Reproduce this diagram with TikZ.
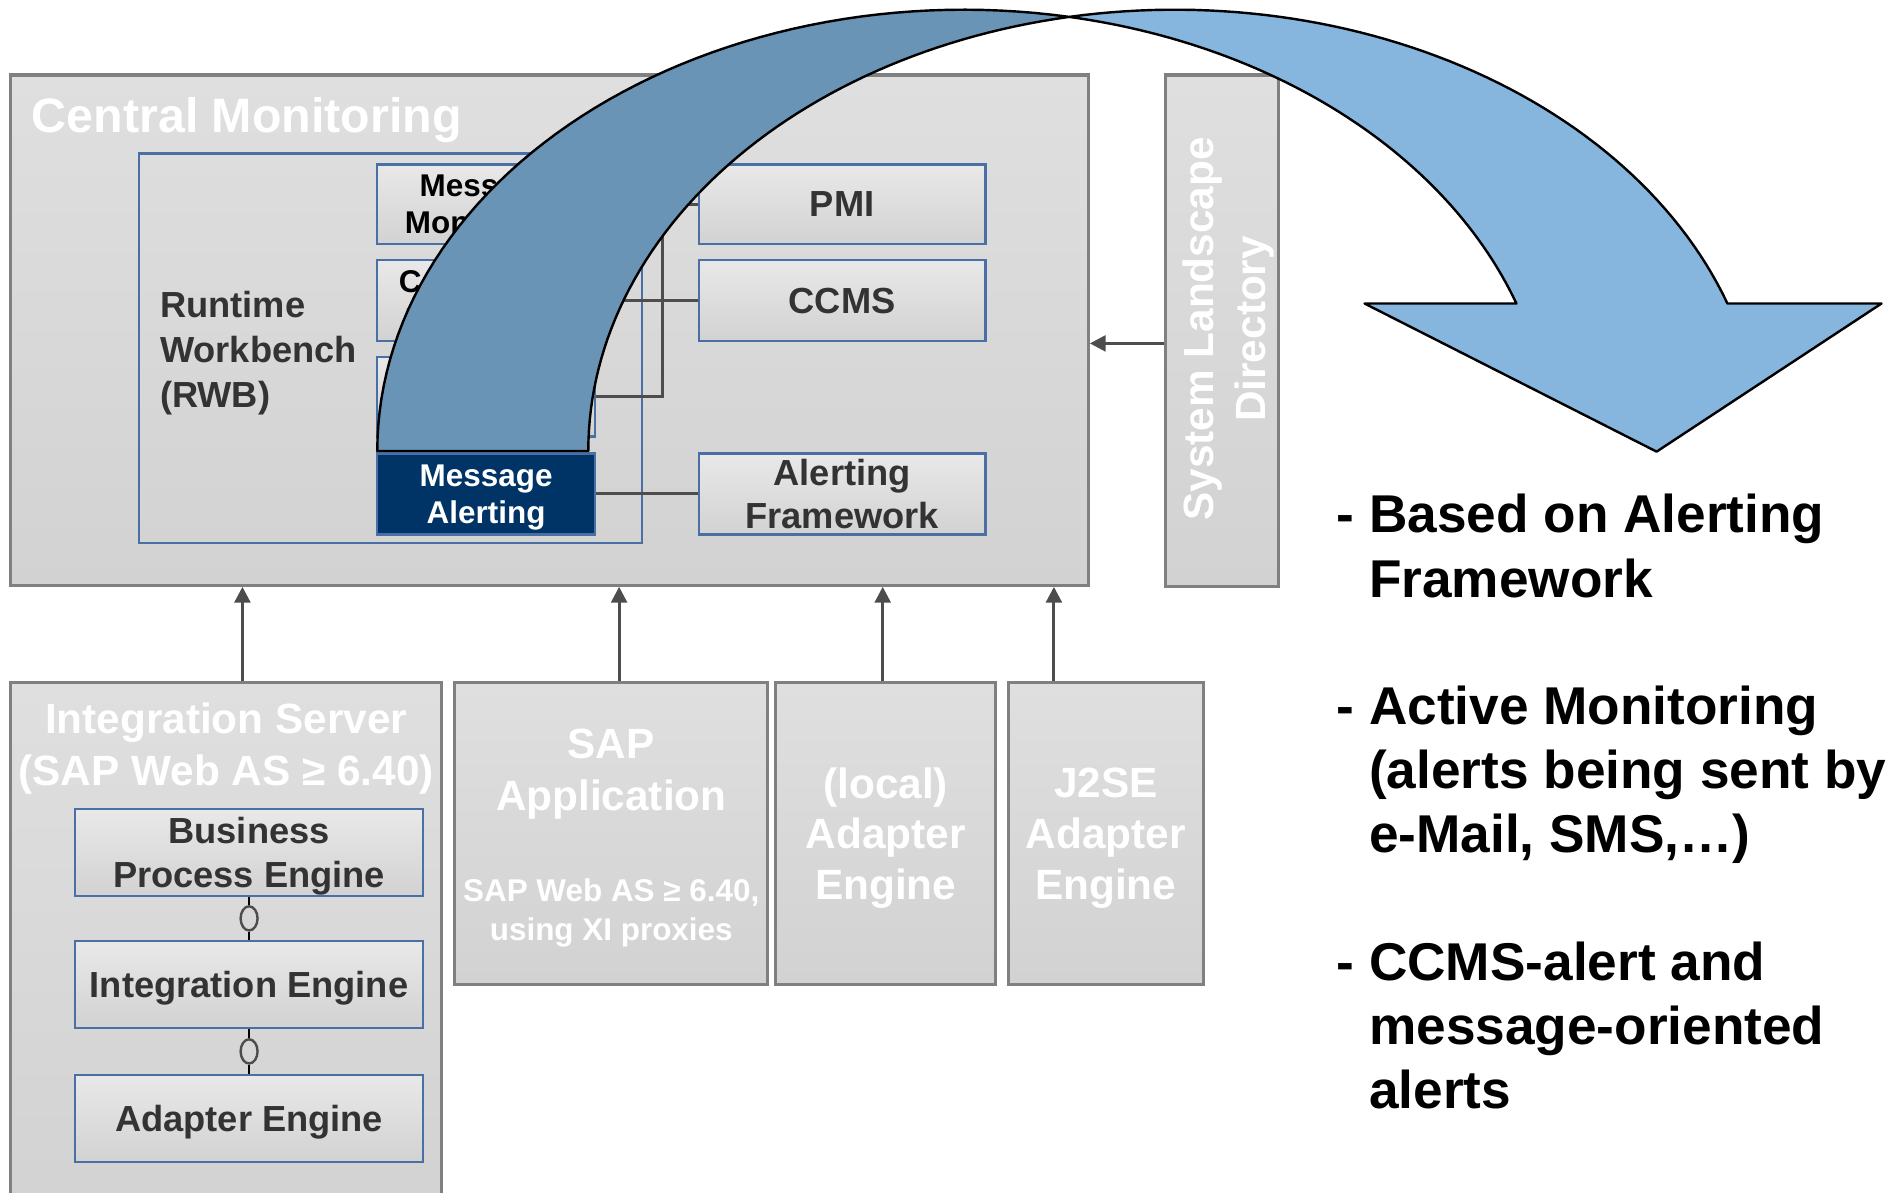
\documentclass[tikz,border=0pt]{standalone}
\usepackage{fontspec}
\setmainfont{Liberation Sans}
\usetikzlibrary{calc, positioning, arrows.meta, shapes.geometric}
\definecolor{boxtop}{HTML}{DFDFDF}
\definecolor{boxbot}{HTML}{D2D2D2}
\definecolor{boxline}{HTML}{808080}
\definecolor{rwbblue}{HTML}{4A6FA5}
\definecolor{alertnavy}{HTML}{003366}
\definecolor{darktext}{HTML}{333333}
\definecolor{linkgray}{HTML}{4D4D4D}
\definecolor{backblue}{HTML}{6A94B6}
\definecolor{frontblue}{HTML}{86B6DD}

\begin{document}
\begin{tikzpicture}[x=0.5pt, y=-0.5pt,
  graybox/.style={draw=boxline, line width=1.3pt, top color=boxtop, bottom color=boxbot, inner sep=0pt},
  bluebox/.style={draw=rwbblue, line width=1pt, top color=boxtop!70!white, bottom color=boxbot, inner sep=0pt, text depth=0pt, align=center, text=darktext, font=\bfseries\fontsize{15}{18}\selectfont},
  rwbbox/.style={bluebox, text=black, font=\bfseries\fontsize{13}{15.5}\selectfont, minimum width=90pt},
  whitetitle/.style={text=white, align=center, inner sep=0pt, font=\bfseries\fontsize{17.5}{21.5}\selectfont},
  link/.style={draw=linkgray, line width=1.25pt},
  uparr/.style={link, -{Triangle[length=6.5pt, width=6.5pt]}},
  plug/.style={draw=black, line width=0.9pt},
  socket/.style={ellipse, draw=linkgray, line width=1pt, fill=boxbot!60!boxtop, minimum width=7pt, minimum height=10pt, inner sep=0pt},
  itemtext/.style={anchor=west, align=left, inner sep=0pt, text=black, font=\bfseries\fontsize{22}{26.5}\selectfont}]

\useasboundingbox (0,0) rectangle (1568,986);

% central monitoring
\node[graybox, minimum width=445.5pt, minimum height=211pt] (cm) at (454.5,273) {};
\node[anchor=west, inner sep=0pt, text=white, font=\bfseries\fontsize{20}{24}\selectfont] (cmtitle) at (26,99) {Central Monitoring};
\node[draw=rwbblue, line width=1pt, minimum width=208pt, minimum height=161pt, inner sep=0pt] (rwb) at (323,288) {};
\node[anchor=west, align=left, inner sep=0pt, text=darktext, font=\bfseries\fontsize{15}{18.5}\selectfont] (rwbtext) at (132,292) {Runtime\\Workbench\\(RWB)};

\node[rwbbox, minimum height=33pt] (msgmon) at (402,169) {Message\\Monitoring};
\node[rwbbox, minimum height=33.5pt] (compmon) at (402,248.5) {Component\\Monitoring};
\node[rwbbox, minimum height=33pt] (etoe) at (402,328) {End-to-End\\Monitoring};
\node[rwbbox, minimum height=33.5pt, fill=alertnavy, top color=alertnavy, bottom color=alertnavy, text=white] (msgalert) at (402,408.5) {Message\\Alerting};

\node[bluebox, minimum width=118.5pt, minimum height=33pt] (pmi) at (696.5,169) {PMI};
\node[bluebox, minimum width=118.5pt, minimum height=33.5pt] (ccms) at (696.5,248.5) {CCMS};
\node[bluebox, minimum width=118.5pt, minimum height=33.5pt] (alertfw) at (696.5,408.5) {Alerting\\Framework};

\draw[link] (msgmon.east) -- (pmi.west);
\draw[link] (compmon.east) -- (ccms.west);
\draw[link] (etoe.east) -- ++(27.5pt,0) |- (pmi.west);
\draw[link] (msgalert.east) -- (alertfw.west);

% system landscape directory
\node[graybox, minimum width=46.5pt, minimum height=211.5pt] (sld) at (1010.5,273.5) {};
\node[whitetitle, rotate=90] (sldtext) at (1016,272) {System Landscape\\Directory};
\draw[uparr] ([yshift=-5.25pt]sld.west) -- ([yshift=-5.25pt]sld.west -| cm.east);

% senders
\node[graybox, anchor=north, minimum width=178pt, minimum height=222pt] (isrv) at (187,563) {};
\node[graybox, anchor=north, minimum width=129.5pt, minimum height=125pt] (sapapp) at (505.5,563) {};
\node[graybox, anchor=north, minimum width=91pt, minimum height=125pt] (localae) at (732.5,563) {};
\node[graybox, anchor=north, minimum width=80.5pt, minimum height=125pt] (jtwoae) at (914.5,563) {};

\node[whitetitle] (isrvtitle) at (187,619) {Integration Server\\(SAP Web AS ≥ 6.40)};
\node[whitetitle] (saptitle) at (505.5,640) {SAP\\Application};
\node[whitetitle, font=\bfseries\fontsize{13}{16}\selectfont] (sapnote) at (505.5,755) {SAP Web AS ≥ 6.40,\\using XI proxies};
\node[whitetitle, font=\bfseries\fontsize{17.5}{21}\selectfont] (localtitle) at (732.5,693) {(local)\\Adapter\\Engine};
\node[whitetitle, font=\bfseries\fontsize{17.5}{21}\selectfont] (jtwotitle) at (914.5,693) {J2SE\\Adapter\\Engine};

\node[bluebox, minimum width=144pt, minimum height=36pt] (bpe) at (206,705) {Business\\Process Engine};
\node[bluebox, minimum width=144pt, minimum height=36pt] (ie) at (206,814) {Integration Engine};
\node[bluebox, minimum width=144pt, minimum height=36pt] (ae) at (206,925) {Adapter Engine};
\node[socket] (sockA) at ($(bpe.south)!0.5!(ie.north)$) {};
\node[socket] (sockB) at ($(ie.south)!0.5!(ae.north)$) {};
\draw[plug] (bpe.south) -- (sockA.north);
\draw[plug] (sockA.south) -- (ie.north);
\draw[plug] (ie.south) -- (sockB.north);
\draw[plug] (sockB.south) -- (ae.north);

\draw[uparr] ([xshift=6.75pt]isrv.north) -- ([xshift=6.75pt]isrv.north |- cm.south);
\draw[uparr] ([xshift=3.25pt]sapapp.north) -- ([xshift=3.25pt]sapapp.north |- cm.south);
\draw[uparr] ([xshift=-1.25pt]localae.north) -- ([xshift=-1.25pt]localae.north |- cm.south);
\draw[uparr] ([xshift=-21.45pt]jtwoae.north) -- ([xshift=-21.45pt]jtwoae.north |- cm.south);

% curved arrow
\draw[fill=frontblue, line width=1pt, line join=round]
  plot[variable=\t, domain=259.64:340.47, samples=60] ({971.5+485*cos(\t)}, {373+365*sin(\t)})
  -- (1556,251) -- (1370,373.5) -- (1128.5,251)
  -- plot[variable=\t, domain=340.47:280.36, samples=60] ({797+485*cos(\t)}, {373+365*sin(\t)})
  -- cycle;
\draw[fill=backblue, line width=1pt, line join=round]
  plot[variable=\t, domain=180:280.36, samples=60] ({797+485*cos(\t)}, {373+365*sin(\t)})
  -- plot[variable=\t, domain=259.64:180, samples=60] ({971.5+485*cos(\t)}, {373+365*sin(\t)})
  -- cycle;

\node[itemtext] (itemA) at (1105,451.5) {-~Based on Alerting\\\phantom{-~}Framework};
\node[itemtext] (itemB) at (1105,641) {-~Active Monitoring\\\phantom{-~}(alerts being sent by\\\phantom{-~}e-Mail, SMS,…)};
\node[itemtext] (itemC) at (1105,848) {-~CCMS-alert and\\\phantom{-~}message-oriented\\\phantom{-~}alerts};
\end{tikzpicture}
\end{document}
